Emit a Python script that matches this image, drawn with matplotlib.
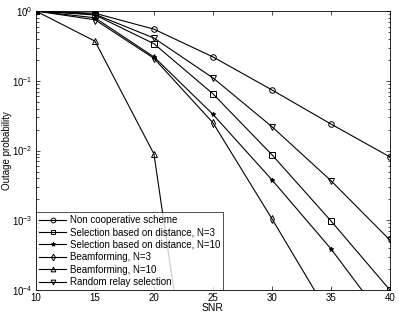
import matplotlib
matplotlib.use("Agg")
import matplotlib.pyplot as plt
import numpy as np

plt.rcParams['font.family'] = ['Liberation Sans', 'DejaVu Sans']
plt.rcParams['mathtext.fontset'] = 'custom'
plt.rcParams['mathtext.rm'] = 'Liberation Sans'

snr = [10, 15, 20, 25, 30, 35, 40]
non_coop = [1.0, 0.93, 0.55, 0.22, 0.074, 0.024, 0.0081]
sel_n3 = [1.0, 0.88, 0.34, 0.065, 0.0087, 0.00098, 0.0001]
sel_n10 = [1.0, 0.80, 0.22, 0.033, 0.0038, 0.00039, 2.9e-5]
bf_n3 = [1.0, 0.75, 0.21, 0.025, 0.00105, 4e-5, 1.3e-6]
bf_n10 = [1.0, 0.37, 0.0089, 1.5e-8]
rand_sel = [1.0, 0.90, 0.41, 0.11, 0.022, 0.0037, 0.00052]

fig = plt.figure(figsize=(3.99, 3.16), dpi=100)
ax = fig.add_axes([0.0902, 0.0823, 0.887, 0.8827])

kw = dict(color='black', lw=0.8, ms=4, mfc='none', mew=0.7)
ax.semilogy(snr, non_coop, marker='o', label='Non cooperative scheme', **kw)
ax.semilogy(snr, sel_n3, marker='s', label='Selection based on distance, N=3', **kw)
ax.semilogy(snr, sel_n10, marker='*', label='Selection based on distance, N=10',
            color='black', lw=0.8, ms=3.5, mew=0.7)
ax.semilogy(snr, bf_n3, marker='d', label='Beamforming, N=3', **kw)
ax.semilogy(snr[:4], bf_n10, marker='^', label='Beamforming, N=10', **kw)
ax.semilogy(snr, rand_sel, marker='v', label='Random relay selection', **kw)

ax.set_xlim(10, 40)
ax.set_ylim(1e-4, 1)
ax.set_xticks([10, 15, 20, 25, 30, 35, 40])
ax.tick_params(which='both', direction='in', top=True, right=True, labelsize=7)
ax.tick_params(which='major', length=3, width=0.5, pad=2.5)
ax.tick_params(which='minor', length=1.8, width=0.5)
ax.xaxis.set_minor_locator(matplotlib.ticker.NullLocator())
for s in ax.spines.values():
    s.set_linewidth(0.6)

ax.set_xlabel('SNR', fontsize=7.5, labelpad=0)
ax.set_ylabel('Outage probability', fontsize=7)
ax.yaxis.set_label_coords(-0.068, 0.5)

leg = ax.legend(loc='lower left', fontsize=7, frameon=True, fancybox=False,
                edgecolor='black', borderaxespad=0, handlelength=2.8,
                handletextpad=0.4, labelspacing=0.25, borderpad=0.3,
                markerscale=0.85)
leg.get_frame().set_linewidth(0.6)

fig.savefig('out.png', dpi=100)
